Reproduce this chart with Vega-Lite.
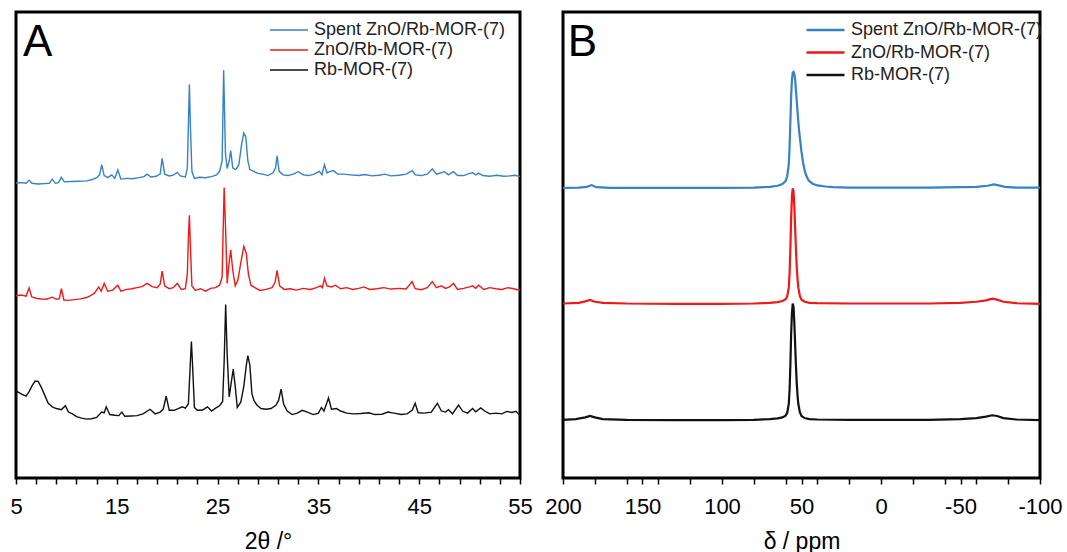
{
"$schema": "https://vega.github.io/schema/vega-lite/v6.json",
"background": "white",
"padding": {"left": 8, "top": 10, "right": 0, "bottom": 0},
"spacing": 9,
"config": {
  "view": {"stroke": "black", "strokeWidth": 3},
  "font": "Liberation Sans",
  "axis": {"labelFont": "Liberation Sans", "titleFont": "Liberation Sans", "labelColor": "black", "titleColor": "black", "tickColor": "black", "grid": false, "domain": false, "labelOverlap": false}
},
"datasets": {
"xrd": [
{"x":5.0,"y":837,"s":"Spent ZnO/Rb-MOR-(7)"},{"x":5.6,"y":838,"s":"Spent ZnO/Rb-MOR-(7)"},{"x":6.0,"y":836,"s":"Spent ZnO/Rb-MOR-(7)"},{"x":6.3,"y":845,"s":"Spent ZnO/Rb-MOR-(7)"},{"x":6.6,"y":836,"s":"Spent ZnO/Rb-MOR-(7)"},{"x":7.2,"y":834,"s":"Spent ZnO/Rb-MOR-(7)"},{"x":7.8,"y":835,"s":"Spent ZnO/Rb-MOR-(7)"},{"x":8.3,"y":836,"s":"Spent ZnO/Rb-MOR-(7)"},{"x":8.6,"y":848,"s":"Spent ZnO/Rb-MOR-(7)"},{"x":8.9,"y":836,"s":"Spent ZnO/Rb-MOR-(7)"},{"x":9.2,"y":838,"s":"Spent ZnO/Rb-MOR-(7)"},{"x":9.5,"y":853,"s":"Spent ZnO/Rb-MOR-(7)"},{"x":9.8,"y":840,"s":"Spent ZnO/Rb-MOR-(7)"},{"x":10.5,"y":841,"s":"Spent ZnO/Rb-MOR-(7)"},{"x":11.2,"y":842,"s":"Spent ZnO/Rb-MOR-(7)"},{"x":12.0,"y":843,"s":"Spent ZnO/Rb-MOR-(7)"},{"x":12.5,"y":846,"s":"Spent ZnO/Rb-MOR-(7)"},{"x":13.0,"y":852,"s":"Spent ZnO/Rb-MOR-(7)"},{"x":13.3,"y":860,"s":"Spent ZnO/Rb-MOR-(7)"},{"x":13.5,"y":889,"s":"Spent ZnO/Rb-MOR-(7)"},{"x":13.75,"y":858,"s":"Spent ZnO/Rb-MOR-(7)"},{"x":14.1,"y":852,"s":"Spent ZnO/Rb-MOR-(7)"},{"x":14.5,"y":860,"s":"Spent ZnO/Rb-MOR-(7)"},{"x":14.8,"y":850,"s":"Spent ZnO/Rb-MOR-(7)"},{"x":15.1,"y":874,"s":"Spent ZnO/Rb-MOR-(7)"},{"x":15.4,"y":848,"s":"Spent ZnO/Rb-MOR-(7)"},{"x":16.0,"y":850,"s":"Spent ZnO/Rb-MOR-(7)"},{"x":16.6,"y":849,"s":"Spent ZnO/Rb-MOR-(7)"},{"x":17.2,"y":852,"s":"Spent ZnO/Rb-MOR-(7)"},{"x":17.7,"y":855,"s":"Spent ZnO/Rb-MOR-(7)"},{"x":18.0,"y":862,"s":"Spent ZnO/Rb-MOR-(7)"},{"x":18.4,"y":854,"s":"Spent ZnO/Rb-MOR-(7)"},{"x":18.9,"y":856,"s":"Spent ZnO/Rb-MOR-(7)"},{"x":19.3,"y":862,"s":"Spent ZnO/Rb-MOR-(7)"},{"x":19.5,"y":907,"s":"Spent ZnO/Rb-MOR-(7)"},{"x":19.75,"y":862,"s":"Spent ZnO/Rb-MOR-(7)"},{"x":20.2,"y":857,"s":"Spent ZnO/Rb-MOR-(7)"},{"x":20.6,"y":859,"s":"Spent ZnO/Rb-MOR-(7)"},{"x":21.0,"y":867,"s":"Spent ZnO/Rb-MOR-(7)"},{"x":21.3,"y":857,"s":"Spent ZnO/Rb-MOR-(7)"},{"x":21.8,"y":854,"s":"Spent ZnO/Rb-MOR-(7)"},{"x":22.0,"y":880,"s":"Spent ZnO/Rb-MOR-(7)"},{"x":22.1,"y":1000,"s":"Spent ZnO/Rb-MOR-(7)"},{"x":22.2,"y":1117,"s":"Spent ZnO/Rb-MOR-(7)"},{"x":22.3,"y":1000,"s":"Spent ZnO/Rb-MOR-(7)"},{"x":22.45,"y":870,"s":"Spent ZnO/Rb-MOR-(7)"},{"x":22.7,"y":850,"s":"Spent ZnO/Rb-MOR-(7)"},{"x":23.2,"y":853,"s":"Spent ZnO/Rb-MOR-(7)"},{"x":23.8,"y":852,"s":"Spent ZnO/Rb-MOR-(7)"},{"x":24.4,"y":855,"s":"Spent ZnO/Rb-MOR-(7)"},{"x":24.9,"y":860,"s":"Spent ZnO/Rb-MOR-(7)"},{"x":25.2,"y":870,"s":"Spent ZnO/Rb-MOR-(7)"},{"x":25.45,"y":900,"s":"Spent ZnO/Rb-MOR-(7)"},{"x":25.6,"y":1157,"s":"Spent ZnO/Rb-MOR-(7)"},{"x":25.78,"y":920,"s":"Spent ZnO/Rb-MOR-(7)"},{"x":25.95,"y":878,"s":"Spent ZnO/Rb-MOR-(7)"},{"x":26.15,"y":900,"s":"Spent ZnO/Rb-MOR-(7)"},{"x":26.3,"y":929,"s":"Spent ZnO/Rb-MOR-(7)"},{"x":26.5,"y":880,"s":"Spent ZnO/Rb-MOR-(7)"},{"x":26.8,"y":875,"s":"Spent ZnO/Rb-MOR-(7)"},{"x":27.1,"y":888,"s":"Spent ZnO/Rb-MOR-(7)"},{"x":27.4,"y":950,"s":"Spent ZnO/Rb-MOR-(7)"},{"x":27.6,"y":979,"s":"Spent ZnO/Rb-MOR-(7)"},{"x":27.8,"y":967,"s":"Spent ZnO/Rb-MOR-(7)"},{"x":28.0,"y":900,"s":"Spent ZnO/Rb-MOR-(7)"},{"x":28.2,"y":875,"s":"Spent ZnO/Rb-MOR-(7)"},{"x":28.6,"y":870,"s":"Spent ZnO/Rb-MOR-(7)"},{"x":29.0,"y":864,"s":"Spent ZnO/Rb-MOR-(7)"},{"x":29.5,"y":862,"s":"Spent ZnO/Rb-MOR-(7)"},{"x":30.0,"y":858,"s":"Spent ZnO/Rb-MOR-(7)"},{"x":30.5,"y":866,"s":"Spent ZnO/Rb-MOR-(7)"},{"x":30.75,"y":880,"s":"Spent ZnO/Rb-MOR-(7)"},{"x":30.9,"y":914,"s":"Spent ZnO/Rb-MOR-(7)"},{"x":31.1,"y":870,"s":"Spent ZnO/Rb-MOR-(7)"},{"x":31.5,"y":860,"s":"Spent ZnO/Rb-MOR-(7)"},{"x":32.0,"y":858,"s":"Spent ZnO/Rb-MOR-(7)"},{"x":32.5,"y":862,"s":"Spent ZnO/Rb-MOR-(7)"},{"x":33.0,"y":869,"s":"Spent ZnO/Rb-MOR-(7)"},{"x":33.5,"y":860,"s":"Spent ZnO/Rb-MOR-(7)"},{"x":34.0,"y":858,"s":"Spent ZnO/Rb-MOR-(7)"},{"x":34.6,"y":862,"s":"Spent ZnO/Rb-MOR-(7)"},{"x":35.1,"y":870,"s":"Spent ZnO/Rb-MOR-(7)"},{"x":35.35,"y":860,"s":"Spent ZnO/Rb-MOR-(7)"},{"x":35.6,"y":889,"s":"Spent ZnO/Rb-MOR-(7)"},{"x":35.85,"y":866,"s":"Spent ZnO/Rb-MOR-(7)"},{"x":36.2,"y":870,"s":"Spent ZnO/Rb-MOR-(7)"},{"x":36.5,"y":872,"s":"Spent ZnO/Rb-MOR-(7)"},{"x":36.9,"y":862,"s":"Spent ZnO/Rb-MOR-(7)"},{"x":37.5,"y":862,"s":"Spent ZnO/Rb-MOR-(7)"},{"x":38.2,"y":860,"s":"Spent ZnO/Rb-MOR-(7)"},{"x":39.0,"y":858,"s":"Spent ZnO/Rb-MOR-(7)"},{"x":39.6,"y":861,"s":"Spent ZnO/Rb-MOR-(7)"},{"x":40.3,"y":857,"s":"Spent ZnO/Rb-MOR-(7)"},{"x":41.0,"y":859,"s":"Spent ZnO/Rb-MOR-(7)"},{"x":41.6,"y":862,"s":"Spent ZnO/Rb-MOR-(7)"},{"x":42.2,"y":857,"s":"Spent ZnO/Rb-MOR-(7)"},{"x":43.0,"y":859,"s":"Spent ZnO/Rb-MOR-(7)"},{"x":43.7,"y":862,"s":"Spent ZnO/Rb-MOR-(7)"},{"x":44.3,"y":872,"s":"Spent ZnO/Rb-MOR-(7)"},{"x":44.6,"y":860,"s":"Spent ZnO/Rb-MOR-(7)"},{"x":45.2,"y":858,"s":"Spent ZnO/Rb-MOR-(7)"},{"x":45.8,"y":862,"s":"Spent ZnO/Rb-MOR-(7)"},{"x":46.3,"y":877,"s":"Spent ZnO/Rb-MOR-(7)"},{"x":46.7,"y":862,"s":"Spent ZnO/Rb-MOR-(7)"},{"x":47.2,"y":866,"s":"Spent ZnO/Rb-MOR-(7)"},{"x":47.5,"y":869,"s":"Spent ZnO/Rb-MOR-(7)"},{"x":47.9,"y":860,"s":"Spent ZnO/Rb-MOR-(7)"},{"x":48.4,"y":869,"s":"Spent ZnO/Rb-MOR-(7)"},{"x":48.8,"y":858,"s":"Spent ZnO/Rb-MOR-(7)"},{"x":49.4,"y":858,"s":"Spent ZnO/Rb-MOR-(7)"},{"x":50.0,"y":864,"s":"Spent ZnO/Rb-MOR-(7)"},{"x":50.3,"y":866,"s":"Spent ZnO/Rb-MOR-(7)"},{"x":50.6,"y":860,"s":"Spent ZnO/Rb-MOR-(7)"},{"x":50.9,"y":865,"s":"Spent ZnO/Rb-MOR-(7)"},{"x":51.3,"y":858,"s":"Spent ZnO/Rb-MOR-(7)"},{"x":52.0,"y":856,"s":"Spent ZnO/Rb-MOR-(7)"},{"x":52.7,"y":859,"s":"Spent ZnO/Rb-MOR-(7)"},{"x":53.4,"y":856,"s":"Spent ZnO/Rb-MOR-(7)"},{"x":54.0,"y":857,"s":"Spent ZnO/Rb-MOR-(7)"},{"x":54.5,"y":859,"s":"Spent ZnO/Rb-MOR-(7)"},{"x":55.0,"y":855,"s":"Spent ZnO/Rb-MOR-(7)"},
{"x":5.0,"y":517,"s":"ZnO/Rb-MOR-(7)"},{"x":5.5,"y":519,"s":"ZnO/Rb-MOR-(7)"},{"x":6.0,"y":516,"s":"ZnO/Rb-MOR-(7)"},{"x":6.3,"y":539,"s":"ZnO/Rb-MOR-(7)"},{"x":6.55,"y":514,"s":"ZnO/Rb-MOR-(7)"},{"x":7.0,"y":510,"s":"ZnO/Rb-MOR-(7)"},{"x":7.5,"y":508,"s":"ZnO/Rb-MOR-(7)"},{"x":8.0,"y":507,"s":"ZnO/Rb-MOR-(7)"},{"x":8.4,"y":511,"s":"ZnO/Rb-MOR-(7)"},{"x":8.6,"y":513,"s":"ZnO/Rb-MOR-(7)"},{"x":9.0,"y":507,"s":"ZnO/Rb-MOR-(7)"},{"x":9.3,"y":509,"s":"ZnO/Rb-MOR-(7)"},{"x":9.5,"y":537,"s":"ZnO/Rb-MOR-(7)"},{"x":9.75,"y":505,"s":"ZnO/Rb-MOR-(7)"},{"x":10.2,"y":504,"s":"ZnO/Rb-MOR-(7)"},{"x":10.8,"y":506,"s":"ZnO/Rb-MOR-(7)"},{"x":11.4,"y":508,"s":"ZnO/Rb-MOR-(7)"},{"x":12.0,"y":512,"s":"ZnO/Rb-MOR-(7)"},{"x":12.4,"y":517,"s":"ZnO/Rb-MOR-(7)"},{"x":12.8,"y":525,"s":"ZnO/Rb-MOR-(7)"},{"x":13.2,"y":542,"s":"ZnO/Rb-MOR-(7)"},{"x":13.45,"y":530,"s":"ZnO/Rb-MOR-(7)"},{"x":13.75,"y":552,"s":"ZnO/Rb-MOR-(7)"},{"x":14.1,"y":530,"s":"ZnO/Rb-MOR-(7)"},{"x":14.6,"y":533,"s":"ZnO/Rb-MOR-(7)"},{"x":15.1,"y":547,"s":"ZnO/Rb-MOR-(7)"},{"x":15.4,"y":530,"s":"ZnO/Rb-MOR-(7)"},{"x":16.0,"y":535,"s":"ZnO/Rb-MOR-(7)"},{"x":16.5,"y":537,"s":"ZnO/Rb-MOR-(7)"},{"x":17.0,"y":540,"s":"ZnO/Rb-MOR-(7)"},{"x":17.5,"y":543,"s":"ZnO/Rb-MOR-(7)"},{"x":18.0,"y":552,"s":"ZnO/Rb-MOR-(7)"},{"x":18.5,"y":543,"s":"ZnO/Rb-MOR-(7)"},{"x":19.0,"y":540,"s":"ZnO/Rb-MOR-(7)"},{"x":19.3,"y":550,"s":"ZnO/Rb-MOR-(7)"},{"x":19.5,"y":587,"s":"ZnO/Rb-MOR-(7)"},{"x":19.75,"y":545,"s":"ZnO/Rb-MOR-(7)"},{"x":20.2,"y":537,"s":"ZnO/Rb-MOR-(7)"},{"x":20.6,"y":540,"s":"ZnO/Rb-MOR-(7)"},{"x":21.0,"y":552,"s":"ZnO/Rb-MOR-(7)"},{"x":21.4,"y":535,"s":"ZnO/Rb-MOR-(7)"},{"x":21.8,"y":537,"s":"ZnO/Rb-MOR-(7)"},{"x":22.0,"y":580,"s":"ZnO/Rb-MOR-(7)"},{"x":22.1,"y":680,"s":"ZnO/Rb-MOR-(7)"},{"x":22.2,"y":745,"s":"ZnO/Rb-MOR-(7)"},{"x":22.3,"y":660,"s":"ZnO/Rb-MOR-(7)"},{"x":22.45,"y":545,"s":"ZnO/Rb-MOR-(7)"},{"x":22.8,"y":532,"s":"ZnO/Rb-MOR-(7)"},{"x":23.3,"y":537,"s":"ZnO/Rb-MOR-(7)"},{"x":23.8,"y":530,"s":"ZnO/Rb-MOR-(7)"},{"x":24.3,"y":538,"s":"ZnO/Rb-MOR-(7)"},{"x":24.8,"y":540,"s":"ZnO/Rb-MOR-(7)"},{"x":25.2,"y":547,"s":"ZnO/Rb-MOR-(7)"},{"x":25.45,"y":570,"s":"ZnO/Rb-MOR-(7)"},{"x":25.55,"y":700,"s":"ZnO/Rb-MOR-(7)"},{"x":25.65,"y":824,"s":"ZnO/Rb-MOR-(7)"},{"x":25.8,"y":700,"s":"ZnO/Rb-MOR-(7)"},{"x":25.95,"y":552,"s":"ZnO/Rb-MOR-(7)"},{"x":26.1,"y":600,"s":"ZnO/Rb-MOR-(7)"},{"x":26.3,"y":647,"s":"ZnO/Rb-MOR-(7)"},{"x":26.5,"y":590,"s":"ZnO/Rb-MOR-(7)"},{"x":26.75,"y":545,"s":"ZnO/Rb-MOR-(7)"},{"x":27.0,"y":560,"s":"ZnO/Rb-MOR-(7)"},{"x":27.3,"y":610,"s":"ZnO/Rb-MOR-(7)"},{"x":27.6,"y":657,"s":"ZnO/Rb-MOR-(7)"},{"x":27.85,"y":637,"s":"ZnO/Rb-MOR-(7)"},{"x":28.05,"y":580,"s":"ZnO/Rb-MOR-(7)"},{"x":28.3,"y":547,"s":"ZnO/Rb-MOR-(7)"},{"x":28.7,"y":540,"s":"ZnO/Rb-MOR-(7)"},{"x":29.2,"y":532,"s":"ZnO/Rb-MOR-(7)"},{"x":29.8,"y":535,"s":"ZnO/Rb-MOR-(7)"},{"x":30.4,"y":540,"s":"ZnO/Rb-MOR-(7)"},{"x":30.7,"y":555,"s":"ZnO/Rb-MOR-(7)"},{"x":30.9,"y":589,"s":"ZnO/Rb-MOR-(7)"},{"x":31.15,"y":545,"s":"ZnO/Rb-MOR-(7)"},{"x":31.6,"y":535,"s":"ZnO/Rb-MOR-(7)"},{"x":32.2,"y":537,"s":"ZnO/Rb-MOR-(7)"},{"x":32.8,"y":533,"s":"ZnO/Rb-MOR-(7)"},{"x":33.5,"y":538,"s":"ZnO/Rb-MOR-(7)"},{"x":34.2,"y":535,"s":"ZnO/Rb-MOR-(7)"},{"x":34.8,"y":540,"s":"ZnO/Rb-MOR-(7)"},{"x":35.2,"y":545,"s":"ZnO/Rb-MOR-(7)"},{"x":35.4,"y":540,"s":"ZnO/Rb-MOR-(7)"},{"x":35.6,"y":567,"s":"ZnO/Rb-MOR-(7)"},{"x":35.85,"y":545,"s":"ZnO/Rb-MOR-(7)"},{"x":36.3,"y":542,"s":"ZnO/Rb-MOR-(7)"},{"x":36.7,"y":547,"s":"ZnO/Rb-MOR-(7)"},{"x":37.2,"y":537,"s":"ZnO/Rb-MOR-(7)"},{"x":37.8,"y":540,"s":"ZnO/Rb-MOR-(7)"},{"x":38.4,"y":535,"s":"ZnO/Rb-MOR-(7)"},{"x":39.0,"y":538,"s":"ZnO/Rb-MOR-(7)"},{"x":39.5,"y":542,"s":"ZnO/Rb-MOR-(7)"},{"x":40.1,"y":535,"s":"ZnO/Rb-MOR-(7)"},{"x":40.8,"y":537,"s":"ZnO/Rb-MOR-(7)"},{"x":41.5,"y":540,"s":"ZnO/Rb-MOR-(7)"},{"x":42.2,"y":536,"s":"ZnO/Rb-MOR-(7)"},{"x":43.0,"y":538,"s":"ZnO/Rb-MOR-(7)"},{"x":43.7,"y":536,"s":"ZnO/Rb-MOR-(7)"},{"x":44.3,"y":557,"s":"ZnO/Rb-MOR-(7)"},{"x":44.6,"y":537,"s":"ZnO/Rb-MOR-(7)"},{"x":45.2,"y":534,"s":"ZnO/Rb-MOR-(7)"},{"x":45.8,"y":540,"s":"ZnO/Rb-MOR-(7)"},{"x":46.3,"y":557,"s":"ZnO/Rb-MOR-(7)"},{"x":46.7,"y":540,"s":"ZnO/Rb-MOR-(7)"},{"x":47.2,"y":545,"s":"ZnO/Rb-MOR-(7)"},{"x":47.6,"y":538,"s":"ZnO/Rb-MOR-(7)"},{"x":48.0,"y":542,"s":"ZnO/Rb-MOR-(7)"},{"x":48.4,"y":552,"s":"ZnO/Rb-MOR-(7)"},{"x":48.8,"y":535,"s":"ZnO/Rb-MOR-(7)"},{"x":49.4,"y":538,"s":"ZnO/Rb-MOR-(7)"},{"x":50.0,"y":542,"s":"ZnO/Rb-MOR-(7)"},{"x":50.3,"y":545,"s":"ZnO/Rb-MOR-(7)"},{"x":50.6,"y":538,"s":"ZnO/Rb-MOR-(7)"},{"x":50.9,"y":547,"s":"ZnO/Rb-MOR-(7)"},{"x":51.4,"y":535,"s":"ZnO/Rb-MOR-(7)"},{"x":52.0,"y":540,"s":"ZnO/Rb-MOR-(7)"},{"x":52.6,"y":537,"s":"ZnO/Rb-MOR-(7)"},{"x":53.2,"y":535,"s":"ZnO/Rb-MOR-(7)"},{"x":53.8,"y":540,"s":"ZnO/Rb-MOR-(7)"},{"x":54.4,"y":537,"s":"ZnO/Rb-MOR-(7)"},{"x":55.0,"y":532,"s":"ZnO/Rb-MOR-(7)"},
{"x":5.0,"y":247,"s":"Rb-MOR-(7)"},{"x":5.3,"y":242,"s":"Rb-MOR-(7)"},{"x":5.6,"y":237,"s":"Rb-MOR-(7)"},{"x":6.0,"y":232,"s":"Rb-MOR-(7)"},{"x":6.3,"y":245,"s":"Rb-MOR-(7)"},{"x":6.6,"y":262,"s":"Rb-MOR-(7)"},{"x":6.9,"y":275,"s":"Rb-MOR-(7)"},{"x":7.2,"y":274,"s":"Rb-MOR-(7)"},{"x":7.5,"y":258,"s":"Rb-MOR-(7)"},{"x":7.8,"y":238,"s":"Rb-MOR-(7)"},{"x":8.2,"y":212,"s":"Rb-MOR-(7)"},{"x":8.6,"y":202,"s":"Rb-MOR-(7)"},{"x":9.0,"y":197,"s":"Rb-MOR-(7)"},{"x":9.5,"y":194,"s":"Rb-MOR-(7)"},{"x":9.9,"y":205,"s":"Rb-MOR-(7)"},{"x":10.2,"y":187,"s":"Rb-MOR-(7)"},{"x":10.6,"y":182,"s":"Rb-MOR-(7)"},{"x":11.0,"y":174,"s":"Rb-MOR-(7)"},{"x":11.5,"y":170,"s":"Rb-MOR-(7)"},{"x":12.0,"y":167,"s":"Rb-MOR-(7)"},{"x":12.5,"y":168,"s":"Rb-MOR-(7)"},{"x":13.0,"y":172,"s":"Rb-MOR-(7)"},{"x":13.5,"y":187,"s":"Rb-MOR-(7)"},{"x":13.75,"y":185,"s":"Rb-MOR-(7)"},{"x":13.95,"y":202,"s":"Rb-MOR-(7)"},{"x":14.3,"y":180,"s":"Rb-MOR-(7)"},{"x":14.8,"y":178,"s":"Rb-MOR-(7)"},{"x":15.2,"y":177,"s":"Rb-MOR-(7)"},{"x":15.5,"y":187,"s":"Rb-MOR-(7)"},{"x":15.8,"y":175,"s":"Rb-MOR-(7)"},{"x":16.4,"y":176,"s":"Rb-MOR-(7)"},{"x":17.0,"y":177,"s":"Rb-MOR-(7)"},{"x":17.6,"y":182,"s":"Rb-MOR-(7)"},{"x":18.3,"y":195,"s":"Rb-MOR-(7)"},{"x":18.8,"y":182,"s":"Rb-MOR-(7)"},{"x":19.3,"y":187,"s":"Rb-MOR-(7)"},{"x":19.6,"y":195,"s":"Rb-MOR-(7)"},{"x":19.9,"y":232,"s":"Rb-MOR-(7)"},{"x":20.2,"y":192,"s":"Rb-MOR-(7)"},{"x":20.7,"y":192,"s":"Rb-MOR-(7)"},{"x":21.2,"y":198,"s":"Rb-MOR-(7)"},{"x":21.5,"y":202,"s":"Rb-MOR-(7)"},{"x":21.8,"y":198,"s":"Rb-MOR-(7)"},{"x":22.1,"y":210,"s":"Rb-MOR-(7)"},{"x":22.3,"y":330,"s":"Rb-MOR-(7)"},{"x":22.4,"y":387,"s":"Rb-MOR-(7)"},{"x":22.5,"y":330,"s":"Rb-MOR-(7)"},{"x":22.7,"y":200,"s":"Rb-MOR-(7)"},{"x":23.0,"y":192,"s":"Rb-MOR-(7)"},{"x":23.5,"y":193,"s":"Rb-MOR-(7)"},{"x":24.0,"y":202,"s":"Rb-MOR-(7)"},{"x":24.4,"y":190,"s":"Rb-MOR-(7)"},{"x":24.8,"y":198,"s":"Rb-MOR-(7)"},{"x":25.2,"y":205,"s":"Rb-MOR-(7)"},{"x":25.5,"y":217,"s":"Rb-MOR-(7)"},{"x":25.65,"y":330,"s":"Rb-MOR-(7)"},{"x":25.8,"y":492,"s":"Rb-MOR-(7)"},{"x":25.95,"y":350,"s":"Rb-MOR-(7)"},{"x":26.15,"y":230,"s":"Rb-MOR-(7)"},{"x":26.35,"y":270,"s":"Rb-MOR-(7)"},{"x":26.55,"y":309,"s":"Rb-MOR-(7)"},{"x":26.75,"y":260,"s":"Rb-MOR-(7)"},{"x":26.95,"y":200,"s":"Rb-MOR-(7)"},{"x":27.3,"y":215,"s":"Rb-MOR-(7)"},{"x":27.6,"y":260,"s":"Rb-MOR-(7)"},{"x":27.85,"y":320,"s":"Rb-MOR-(7)"},{"x":28.0,"y":347,"s":"Rb-MOR-(7)"},{"x":28.2,"y":320,"s":"Rb-MOR-(7)"},{"x":28.4,"y":240,"s":"Rb-MOR-(7)"},{"x":28.6,"y":220,"s":"Rb-MOR-(7)"},{"x":28.9,"y":207,"s":"Rb-MOR-(7)"},{"x":29.3,"y":197,"s":"Rb-MOR-(7)"},{"x":29.8,"y":195,"s":"Rb-MOR-(7)"},{"x":30.3,"y":197,"s":"Rb-MOR-(7)"},{"x":30.8,"y":207,"s":"Rb-MOR-(7)"},{"x":31.05,"y":220,"s":"Rb-MOR-(7)"},{"x":31.3,"y":252,"s":"Rb-MOR-(7)"},{"x":31.55,"y":210,"s":"Rb-MOR-(7)"},{"x":31.9,"y":190,"s":"Rb-MOR-(7)"},{"x":32.4,"y":180,"s":"Rb-MOR-(7)"},{"x":32.9,"y":184,"s":"Rb-MOR-(7)"},{"x":33.4,"y":192,"s":"Rb-MOR-(7)"},{"x":33.9,"y":187,"s":"Rb-MOR-(7)"},{"x":34.5,"y":180,"s":"Rb-MOR-(7)"},{"x":35.0,"y":184,"s":"Rb-MOR-(7)"},{"x":35.3,"y":200,"s":"Rb-MOR-(7)"},{"x":35.55,"y":190,"s":"Rb-MOR-(7)"},{"x":35.8,"y":210,"s":"Rb-MOR-(7)"},{"x":36.0,"y":227,"s":"Rb-MOR-(7)"},{"x":36.3,"y":195,"s":"Rb-MOR-(7)"},{"x":36.8,"y":197,"s":"Rb-MOR-(7)"},{"x":37.2,"y":190,"s":"Rb-MOR-(7)"},{"x":37.8,"y":184,"s":"Rb-MOR-(7)"},{"x":38.5,"y":182,"s":"Rb-MOR-(7)"},{"x":39.2,"y":183,"s":"Rb-MOR-(7)"},{"x":40.0,"y":185,"s":"Rb-MOR-(7)"},{"x":40.6,"y":180,"s":"Rb-MOR-(7)"},{"x":41.3,"y":181,"s":"Rb-MOR-(7)"},{"x":41.9,"y":187,"s":"Rb-MOR-(7)"},{"x":42.5,"y":184,"s":"Rb-MOR-(7)"},{"x":43.2,"y":180,"s":"Rb-MOR-(7)"},{"x":43.8,"y":182,"s":"Rb-MOR-(7)"},{"x":44.3,"y":192,"s":"Rb-MOR-(7)"},{"x":44.6,"y":212,"s":"Rb-MOR-(7)"},{"x":44.9,"y":185,"s":"Rb-MOR-(7)"},{"x":45.5,"y":184,"s":"Rb-MOR-(7)"},{"x":46.2,"y":187,"s":"Rb-MOR-(7)"},{"x":46.8,"y":212,"s":"Rb-MOR-(7)"},{"x":47.2,"y":190,"s":"Rb-MOR-(7)"},{"x":47.6,"y":187,"s":"Rb-MOR-(7)"},{"x":47.9,"y":194,"s":"Rb-MOR-(7)"},{"x":48.3,"y":182,"s":"Rb-MOR-(7)"},{"x":48.9,"y":207,"s":"Rb-MOR-(7)"},{"x":49.3,"y":190,"s":"Rb-MOR-(7)"},{"x":49.8,"y":184,"s":"Rb-MOR-(7)"},{"x":50.3,"y":197,"s":"Rb-MOR-(7)"},{"x":50.6,"y":188,"s":"Rb-MOR-(7)"},{"x":51.1,"y":199,"s":"Rb-MOR-(7)"},{"x":51.5,"y":190,"s":"Rb-MOR-(7)"},{"x":52.0,"y":182,"s":"Rb-MOR-(7)"},{"x":52.6,"y":184,"s":"Rb-MOR-(7)"},{"x":53.2,"y":182,"s":"Rb-MOR-(7)"},{"x":53.7,"y":189,"s":"Rb-MOR-(7)"},{"x":54.2,"y":186,"s":"Rb-MOR-(7)"},{"x":54.6,"y":189,"s":"Rb-MOR-(7)"},{"x":55.0,"y":177,"s":"Rb-MOR-(7)"}
],
"nmr": [
{"x":200,"y":823,"s":"Spent ZnO/Rb-MOR-(7)"},{"x":190,"y":824,"s":"Spent ZnO/Rb-MOR-(7)"},{"x":185,"y":826,"s":"Spent ZnO/Rb-MOR-(7)"},{"x":182,"y":831,"s":"Spent ZnO/Rb-MOR-(7)"},{"x":179,"y":825,"s":"Spent ZnO/Rb-MOR-(7)"},{"x":170,"y":823,"s":"Spent ZnO/Rb-MOR-(7)"},{"x":150,"y":823,"s":"Spent ZnO/Rb-MOR-(7)"},{"x":120,"y":823,"s":"Spent ZnO/Rb-MOR-(7)"},{"x":100,"y":823,"s":"Spent ZnO/Rb-MOR-(7)"},{"x":80,"y":824,"s":"Spent ZnO/Rb-MOR-(7)"},{"x":70,"y":826,"s":"Spent ZnO/Rb-MOR-(7)"},{"x":65,"y":829,"s":"Spent ZnO/Rb-MOR-(7)"},{"x":62,"y":834,"s":"Spent ZnO/Rb-MOR-(7)"},{"x":60,"y":842,"s":"Spent ZnO/Rb-MOR-(7)"},{"x":59,"y":856,"s":"Spent ZnO/Rb-MOR-(7)"},{"x":58,"y":890,"s":"Spent ZnO/Rb-MOR-(7)"},{"x":57.5,"y":940,"s":"Spent ZnO/Rb-MOR-(7)"},{"x":57,"y":1010,"s":"Spent ZnO/Rb-MOR-(7)"},{"x":56.5,"y":1085,"s":"Spent ZnO/Rb-MOR-(7)"},{"x":56,"y":1130,"s":"Spent ZnO/Rb-MOR-(7)"},{"x":55.5,"y":1150,"s":"Spent ZnO/Rb-MOR-(7)"},{"x":55,"y":1152,"s":"Spent ZnO/Rb-MOR-(7)"},{"x":54.5,"y":1146,"s":"Spent ZnO/Rb-MOR-(7)"},{"x":54,"y":1130,"s":"Spent ZnO/Rb-MOR-(7)"},{"x":53.5,"y":1100,"s":"Spent ZnO/Rb-MOR-(7)"},{"x":53,"y":1070,"s":"Spent ZnO/Rb-MOR-(7)"},{"x":52.5,"y":1040,"s":"Spent ZnO/Rb-MOR-(7)"},{"x":52,"y":1010,"s":"Spent ZnO/Rb-MOR-(7)"},{"x":51.5,"y":985,"s":"Spent ZnO/Rb-MOR-(7)"},{"x":51,"y":965,"s":"Spent ZnO/Rb-MOR-(7)"},{"x":50.5,"y":945,"s":"Spent ZnO/Rb-MOR-(7)"},{"x":50,"y":925,"s":"Spent ZnO/Rb-MOR-(7)"},{"x":49,"y":895,"s":"Spent ZnO/Rb-MOR-(7)"},{"x":48,"y":872,"s":"Spent ZnO/Rb-MOR-(7)"},{"x":47,"y":858,"s":"Spent ZnO/Rb-MOR-(7)"},{"x":46,"y":848,"s":"Spent ZnO/Rb-MOR-(7)"},{"x":45,"y":842,"s":"Spent ZnO/Rb-MOR-(7)"},{"x":43,"y":835,"s":"Spent ZnO/Rb-MOR-(7)"},{"x":40,"y":830,"s":"Spent ZnO/Rb-MOR-(7)"},{"x":35,"y":827,"s":"Spent ZnO/Rb-MOR-(7)"},{"x":30,"y":825,"s":"Spent ZnO/Rb-MOR-(7)"},{"x":20,"y":824,"s":"Spent ZnO/Rb-MOR-(7)"},{"x":0,"y":824,"s":"Spent ZnO/Rb-MOR-(7)"},{"x":-30,"y":824,"s":"Spent ZnO/Rb-MOR-(7)"},{"x":-50,"y":825,"s":"Spent ZnO/Rb-MOR-(7)"},{"x":-60,"y":826,"s":"Spent ZnO/Rb-MOR-(7)"},{"x":-67,"y":829,"s":"Spent ZnO/Rb-MOR-(7)"},{"x":-71,"y":833,"s":"Spent ZnO/Rb-MOR-(7)"},{"x":-74,"y":830,"s":"Spent ZnO/Rb-MOR-(7)"},{"x":-78,"y":826,"s":"Spent ZnO/Rb-MOR-(7)"},{"x":-85,"y":824,"s":"Spent ZnO/Rb-MOR-(7)"},{"x":-100,"y":824,"s":"Spent ZnO/Rb-MOR-(7)"},
{"x":200,"y":495,"s":"ZnO/Rb-MOR-(7)"},{"x":190,"y":497,"s":"ZnO/Rb-MOR-(7)"},{"x":186,"y":501,"s":"ZnO/Rb-MOR-(7)"},{"x":183,"y":505,"s":"ZnO/Rb-MOR-(7)"},{"x":180,"y":500,"s":"ZnO/Rb-MOR-(7)"},{"x":175,"y":497,"s":"ZnO/Rb-MOR-(7)"},{"x":160,"y":495,"s":"ZnO/Rb-MOR-(7)"},{"x":130,"y":494,"s":"ZnO/Rb-MOR-(7)"},{"x":100,"y":494,"s":"ZnO/Rb-MOR-(7)"},{"x":80,"y":495,"s":"ZnO/Rb-MOR-(7)"},{"x":70,"y":497,"s":"ZnO/Rb-MOR-(7)"},{"x":65,"y":499,"s":"ZnO/Rb-MOR-(7)"},{"x":62,"y":502,"s":"ZnO/Rb-MOR-(7)"},{"x":60,"y":507,"s":"ZnO/Rb-MOR-(7)"},{"x":59,"y":515,"s":"ZnO/Rb-MOR-(7)"},{"x":58,"y":540,"s":"ZnO/Rb-MOR-(7)"},{"x":57.5,"y":580,"s":"ZnO/Rb-MOR-(7)"},{"x":57,"y":650,"s":"ZnO/Rb-MOR-(7)"},{"x":56.5,"y":740,"s":"ZnO/Rb-MOR-(7)"},{"x":56,"y":800,"s":"ZnO/Rb-MOR-(7)"},{"x":55.5,"y":822,"s":"ZnO/Rb-MOR-(7)"},{"x":55,"y":812,"s":"ZnO/Rb-MOR-(7)"},{"x":54.5,"y":770,"s":"ZnO/Rb-MOR-(7)"},{"x":54,"y":710,"s":"ZnO/Rb-MOR-(7)"},{"x":53.5,"y":650,"s":"ZnO/Rb-MOR-(7)"},{"x":53,"y":600,"s":"ZnO/Rb-MOR-(7)"},{"x":52.5,"y":565,"s":"ZnO/Rb-MOR-(7)"},{"x":52,"y":540,"s":"ZnO/Rb-MOR-(7)"},{"x":51,"y":516,"s":"ZnO/Rb-MOR-(7)"},{"x":50,"y":506,"s":"ZnO/Rb-MOR-(7)"},{"x":48,"y":500,"s":"ZnO/Rb-MOR-(7)"},{"x":45,"y":497,"s":"ZnO/Rb-MOR-(7)"},{"x":40,"y":496,"s":"ZnO/Rb-MOR-(7)"},{"x":20,"y":495,"s":"ZnO/Rb-MOR-(7)"},{"x":0,"y":495,"s":"ZnO/Rb-MOR-(7)"},{"x":-30,"y":495,"s":"ZnO/Rb-MOR-(7)"},{"x":-50,"y":497,"s":"ZnO/Rb-MOR-(7)"},{"x":-60,"y":500,"s":"ZnO/Rb-MOR-(7)"},{"x":-66,"y":504,"s":"ZnO/Rb-MOR-(7)"},{"x":-70,"y":509,"s":"ZnO/Rb-MOR-(7)"},{"x":-73,"y":506,"s":"ZnO/Rb-MOR-(7)"},{"x":-77,"y":500,"s":"ZnO/Rb-MOR-(7)"},{"x":-85,"y":496,"s":"ZnO/Rb-MOR-(7)"},{"x":-100,"y":494,"s":"ZnO/Rb-MOR-(7)"},
{"x":200,"y":165,"s":"Rb-MOR-(7)"},{"x":192,"y":167,"s":"Rb-MOR-(7)"},{"x":186,"y":172,"s":"Rb-MOR-(7)"},{"x":183,"y":176,"s":"Rb-MOR-(7)"},{"x":180,"y":172,"s":"Rb-MOR-(7)"},{"x":175,"y":167,"s":"Rb-MOR-(7)"},{"x":160,"y":165,"s":"Rb-MOR-(7)"},{"x":130,"y":164,"s":"Rb-MOR-(7)"},{"x":100,"y":164,"s":"Rb-MOR-(7)"},{"x":80,"y":165,"s":"Rb-MOR-(7)"},{"x":70,"y":167,"s":"Rb-MOR-(7)"},{"x":65,"y":169,"s":"Rb-MOR-(7)"},{"x":62,"y":172,"s":"Rb-MOR-(7)"},{"x":60,"y":177,"s":"Rb-MOR-(7)"},{"x":59,"y":185,"s":"Rb-MOR-(7)"},{"x":58,"y":210,"s":"Rb-MOR-(7)"},{"x":57.5,"y":250,"s":"Rb-MOR-(7)"},{"x":57,"y":320,"s":"Rb-MOR-(7)"},{"x":56.5,"y":410,"s":"Rb-MOR-(7)"},{"x":56,"y":470,"s":"Rb-MOR-(7)"},{"x":55.5,"y":495,"s":"Rb-MOR-(7)"},{"x":55,"y":485,"s":"Rb-MOR-(7)"},{"x":54.5,"y":440,"s":"Rb-MOR-(7)"},{"x":54,"y":380,"s":"Rb-MOR-(7)"},{"x":53.5,"y":320,"s":"Rb-MOR-(7)"},{"x":53,"y":270,"s":"Rb-MOR-(7)"},{"x":52.5,"y":235,"s":"Rb-MOR-(7)"},{"x":52,"y":210,"s":"Rb-MOR-(7)"},{"x":51,"y":186,"s":"Rb-MOR-(7)"},{"x":50,"y":176,"s":"Rb-MOR-(7)"},{"x":48,"y":170,"s":"Rb-MOR-(7)"},{"x":45,"y":167,"s":"Rb-MOR-(7)"},{"x":40,"y":166,"s":"Rb-MOR-(7)"},{"x":20,"y":165,"s":"Rb-MOR-(7)"},{"x":0,"y":165,"s":"Rb-MOR-(7)"},{"x":-30,"y":165,"s":"Rb-MOR-(7)"},{"x":-50,"y":167,"s":"Rb-MOR-(7)"},{"x":-60,"y":170,"s":"Rb-MOR-(7)"},{"x":-66,"y":174,"s":"Rb-MOR-(7)"},{"x":-70,"y":178,"s":"Rb-MOR-(7)"},{"x":-73,"y":176,"s":"Rb-MOR-(7)"},{"x":-77,"y":170,"s":"Rb-MOR-(7)"},{"x":-85,"y":166,"s":"Rb-MOR-(7)"},{"x":-100,"y":164,"s":"Rb-MOR-(7)"}
],
"labA": [{"x": 5.7, "y": 1197, "t": "A"}],
"labB": [{"x": 197, "y": 1197, "t": "B"}]
},
"resolve": {"scale": {"color": "independent"}, "legend": {"color": "independent"}},
"hconcat": [
{
  "width": 504, "height": 466,
  "resolve": {"axis": {"x": "independent"}},
  "layer": [
    {
      "data": {"name": "xrd"},
      "mark": {"type": "line", "strokeWidth": 1.4, "interpolate": "linear"},
      "encoding": {
        "x": {"field": "x", "type": "quantitative", "scale": {"domain": [5, 55], "nice": false, "zero": false},
              "axis": {"orient": "bottom", "title": "2θ /°", "values": [5,15,25,35,45,55],
                       "labelFontSize": 22, "titleFontSize": 23, "titleFontWeight": "normal",
                       "tickSize": 6, "tickWidth": 1.5, "labelPadding": 12, "titlePadding": 13, "labelFlush": false, "labelOverlap": false}},
        "y": {"field": "y", "type": "quantitative", "scale": {"domain": [0, 1322], "nice": false, "zero": false}, "axis": null},
        "color": {"field": "s", "type": "nominal",
                  "scale": {"domain": ["Spent ZnO/Rb-MOR-(7)", "ZnO/Rb-MOR-(7)", "Rb-MOR-(7)"], "range": ["#3582c4", "#f01818", "#111111"]},
                  "legend": {"title": null, "orient": "none", "legendX": 253, "legendY": 8, "symbolType": "stroke", "symbolSize": 1444, "symbolStrokeWidth": 1.5,
                             "labelFontSize": 18, "labelFont": "Liberation Sans", "labelColor": "#222", "labelOffset": 5, "labelLimit": 400, "clipHeight": 20, "rowPadding": 0, "padding": 0}},
        "detail": {"field": "s"}
      }
    },
    {
      "data": {"name": "labA"},
      "mark": {"type": "text", "fontSize": 44, "align": "left", "baseline": "alphabetic", "font": "Liberation Sans", "color": "black"},
      "encoding": {
        "x": {"field": "x", "type": "quantitative",
              "axis": {"orient": "bottom", "title": null, "labels": false, "values": [7,9,11,13,17,19,21,23,27,29,31,33,37,39,41,43,47,49,51,53], "tickSize": 6, "tickWidth": 1.5}},
        "y": {"field": "y", "type": "quantitative", "axis": null}, "text": {"field": "t"}}
    }
  ]
},
{
  "width": 477, "height": 466,
  "resolve": {"axis": {"x": "independent"}},
  "layer": [
    {
      "data": {"name": "nmr"},
      "mark": {"type": "line", "strokeWidth": 2.2},
      "encoding": {
        "x": {"field": "x", "type": "quantitative", "scale": {"domain": [-100, 200], "reverse": true, "nice": false, "zero": false},
              "axis": {"orient": "bottom", "title": "δ / ppm", "values": [200,150,100,50,0,-50,-100],
                       "labelExpr": "'' + datum.value", "labelFontSize": 22, "titleFontSize": 23, "titleFontWeight": "normal",
                       "tickSize": 6, "tickWidth": 1.5, "labelPadding": 12, "titlePadding": 13, "labelFlush": false, "labelOverlap": false}},
        "y": {"field": "y", "type": "quantitative", "scale": {"domain": [0, 1322], "nice": false, "zero": false}, "axis": null},
        "color": {"field": "s", "type": "nominal",
                  "scale": {"domain": ["Spent ZnO/Rb-MOR-(7)", "ZnO/Rb-MOR-(7)", "Rb-MOR-(7)"], "range": ["#3582c4", "#f01818", "#111111"]},
                  "legend": {"title": null, "orient": "none", "legendX": 242, "legendY": 8, "symbolType": "stroke", "symbolSize": 1444, "symbolStrokeWidth": 2.5,
                             "labelFontSize": 18, "labelFont": "Liberation Sans", "labelColor": "#222", "labelOffset": 5, "labelLimit": 400, "clipHeight": 20, "rowPadding": 2.5, "padding": 0}},
        "order": {"field": "x", "type": "quantitative", "sort": "descending"}
      }
    },
    {
      "data": {"name": "labB"},
      "mark": {"type": "text", "fontSize": 44, "align": "left", "baseline": "alphabetic", "font": "Liberation Sans", "color": "black"},
      "encoding": {
        "x": {"field": "x", "type": "quantitative",
              "axis": {"orient": "bottom", "title": null, "labels": false, "values": [180,160,140,120,80,60,40,20,-20,-40,-60,-80], "tickSize": 6, "tickWidth": 1.5}},
        "y": {"field": "y", "type": "quantitative", "axis": null}, "text": {"field": "t"}}
    }
  ]
}
]
}
